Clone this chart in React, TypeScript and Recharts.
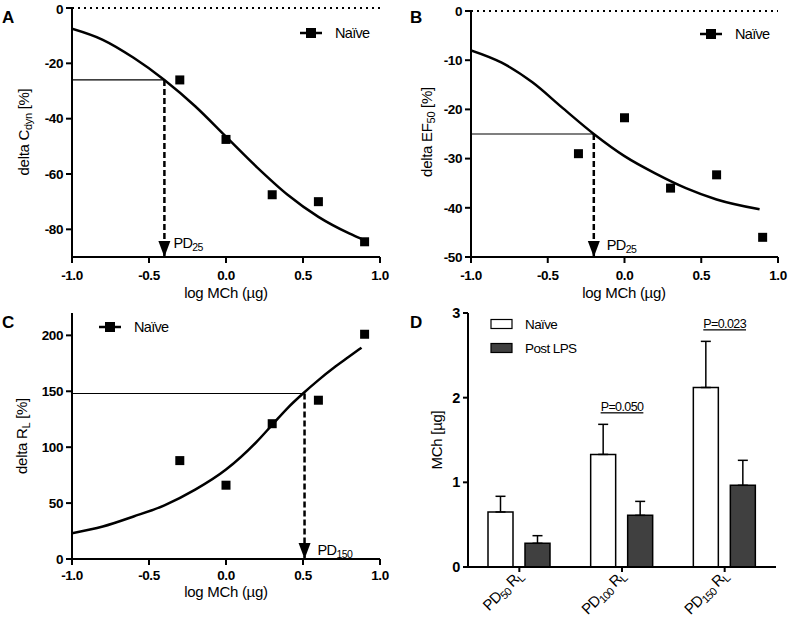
import React from 'react';
import {
  ComposedChart,
  Line,
  Scatter,
  XAxis,
  YAxis,
  ReferenceLine,
  ReferenceDot,
  BarChart,
  Bar,
  ErrorBar,
} from 'recharts';

const FONT = '"Liberation Sans", Arial, Helvetica, sans-serif';

// ---- Dose-response data (log MCh, µg) ----
const doses = [-0.3, 0, 0.3, 0.6, 0.9];
const cdynValues = [-26, -47.5, -67.5, -70, -84.5];
const ef50Values = [-29, -21.7, -36, -33.3, -46];
const rlValues = [88, 66, 121, 142, 201];

// fitted curves
const fitXA = [-1, -0.8, -0.6, -0.4, -0.2, 0, 0.2, 0.4, 0.6, 0.8, 0.9];
const fitYA = [-7.5, -11.5, -18, -26, -35.5, -46.5, -57.5, -67.5, -75.5, -81.5, -84];
const fitXB = [-1, -0.8, -0.6, -0.4, -0.2, 0, 0.2, 0.4, 0.6, 0.88];
const fitYB = [-8, -10.5, -14.5, -19.8, -25, -29.5, -33, -36, -38.3, -40.3];
const fitXC = [-1, -0.8, -0.6, -0.4, -0.2, 0, 0.2, 0.3, 0.4, 0.5, 0.6, 0.7, 0.8, 0.88];
const fitYC = [23, 29, 38, 48, 62, 80, 105, 120, 135, 148, 160, 171, 181, 189];

const xTicks = [-1, -0.5, 0, 0.5, 1];
const yTicksA = [-80, -60, -40, -20, 0];
const yTicksB = [-50, -40, -30, -20, -10, 0];
const yTicksC = [0, 50, 100, 150, 200];

// PD markers
const pdA = { x: -0.4, y: -26, sub: '25' };
const pdB = { x: -0.2, y: -25, sub: '25' };
const pdC = { x: 0.51, y: 148, sub: '150' };

// ---- Bar panel data ----
const categories = ['PD50 RL', 'PD100 RL', 'PD150 RL'];
const catSubs = ['50', '100', '150'];
const naiveMean = [0.65, 1.33, 2.12];
const naiveSem = [0.185, 0.355, 0.545];
const lpsMean = [0.28, 0.61, 0.965];
const lpsSem = [0.09, 0.165, 0.295];
const pTexts = ['', 'P=0.050', 'P=0.023'];
const pLevels = [0, 1.84, 2.82];
const yTicksD = [0, 1, 2, 3];

const toPts = (xs: number[], ys: number[]) => xs.map((x, i) => ({ x, y: ys[i] }));

const barData = categories.map((c, i) => ({
  cat: c,
  naive: naiveMean[i],
  naiveErr: [0, naiveSem[i]],
  lps: lpsMean[i],
  lpsErr: [0, lpsSem[i]],
}));

const axisLine = { stroke: '#000', strokeWidth: 2 };
const tickLine = { stroke: '#000', strokeWidth: 2 };

const XTick = (props: any) => {
  const { x, y, payload } = props;
  return (
    <text
      x={x}
      y={y}
      dy="0.71em"
      textAnchor="middle"
      fontSize={13.5}
      fontWeight={700}
      fontFamily={FONT}
      fill="#000"
      letterSpacing={-0.4}
    >
      {Number(payload.value).toFixed(1)}
    </text>
  );
};

const makeYTick = (size: number) => (props: any) => {
  const { x, y, payload } = props;
  return (
    <text
      x={x}
      y={y}
      dy="0.355em"
      textAnchor="end"
      fontSize={size}
      fontWeight={700}
      fontFamily={FONT}
      fill="#000"
      letterSpacing={-0.4}
    >
      {payload.value}
    </text>
  );
};
const YTick = makeYTick(13.5);
const YTickD = makeYTick(14.5);

const Square = (props: any) => {
  const { cx, cy } = props;
  if (cx == null || cy == null) return null;
  return <rect x={cx - 4.5} y={cy - 4.5} width={9} height={9} fill="#000" />;
};

const makeArrow = (sub: string, dx: number, dy: number) => (props: any) => {
  const { cx, cy } = props;
  if (cx == null || cy == null) return null;
  return (
    <g>
      <path d={`M${cx - 6},${cy - 16} L${cx + 6},${cy - 16} L${cx},${cy} Z`} fill="#000" />
      <text x={cx + dx} y={cy + dy} fontSize={14.5} fontFamily={FONT} fill="#000" letterSpacing={-0.6}>
        PD
        <tspan fontSize={10.5} dy={3}>
          {sub}
        </tspan>
      </text>
    </g>
  );
};

type DoseProps = {
  left: number;
  top: number;
  width: number;
  height: number;
  margin: { top: number; right: number; bottom: number; left: number };
  yDomain: [number, number];
  yTicks: number[];
  points: { x: number; y: number }[];
  fit: { x: number; y: number }[];
  pd: { x: number; y: number; sub: string };
  labelDx: number;
  labelDy: number;
  zeroLine: boolean;
  xTickMargin: number;
};

function DosePanel(p: DoseProps) {
  return (
    <div style={{ position: 'absolute', left: p.left, top: p.top }}>
      <ComposedChart width={p.width} height={p.height} margin={p.margin}>
        <XAxis
          type="number"
          dataKey="x"
          domain={[-1, 1]}
          ticks={xTicks}
          allowDataOverflow
          axisLine={axisLine}
          tickLine={tickLine}
          tickSize={6}
          tickMargin={p.xTickMargin}
          tick={<XTick />}
          height={40}
        />
        <YAxis
          type="number"
          dataKey="y"
          domain={p.yDomain}
          ticks={p.yTicks}
          allowDataOverflow
          axisLine={axisLine}
          tickLine={tickLine}
          tickSize={6}
          tickMargin={3}
          tick={<YTick />}
          width={40}
        />
        {p.zeroLine && (
          <ReferenceLine y={0} stroke="#000" strokeWidth={2} strokeDasharray="2 4" />
        )}
        <ReferenceLine
          segment={[
            { x: -1, y: p.pd.y },
            { x: p.pd.x, y: p.pd.y },
          ]}
          stroke="#000"
          strokeWidth={1.2}
        />
        <ReferenceLine
          segment={[
            { x: p.pd.x, y: p.pd.y },
            { x: p.pd.x, y: p.yDomain[0] },
          ]}
          stroke="#000"
          strokeWidth={2.5}
          strokeDasharray="6 3"
        />
        <ReferenceDot x={p.pd.x} y={p.yDomain[0]} shape={makeArrow(p.pd.sub, p.labelDx, p.labelDy)} />
        <Line
          data={p.fit}
          dataKey="y"
          type="monotone"
          stroke="#000"
          strokeWidth={2.5}
          dot={false}
          activeDot={false}
          isAnimationActive={false}
        />
        <Scatter data={p.points} dataKey="y" shape={Square} isAnimationActive={false} />
      </ComposedChart>
    </div>
  );
}

const CatTick = (props: any) => {
  const { x, y, payload } = props;
  const i = categories.indexOf(payload.value);
  return (
    <g transform={`translate(${x + 4},${y + 3})`}>
      <text
        transform="rotate(-45)"
        textAnchor="end"
        fontSize={15}
        fontFamily={FONT}
        fill="#000"
        letterSpacing={-0.8}
      >
        PD
        <tspan fontSize={11} dy={3}>
          {catSubs[i]}
        </tspan>
        <tspan fontSize={15} dy={-3}>
          {' R'}
        </tspan>
        <tspan fontSize={11} dy={3}>
          L
        </tspan>
      </text>
    </g>
  );
};

const makePLabel = (text: string) => (props: any) => {
  const { cx, cy } = props;
  if (cx == null || cy == null) return null;
  return (
    <text
      x={cx}
      y={cy}
      textAnchor="middle"
      fontSize={12.5}
      fontFamily={FONT}
      fill="#000"
      letterSpacing={-0.6}
      style={{ textDecoration: 'underline' }}
    >
      {text}
    </text>
  );
};

function BarPanel() {
  return (
    <div style={{ position: 'absolute', left: 396, top: 300 }}>
      <BarChart
        width={396}
        height={319}
        data={barData}
        margin={{ top: 13, right: 16, bottom: 12, left: 32 }}
        barSize={25}
        barGap={12}
      >
        <XAxis
          dataKey="cat"
          type="category"
          axisLine={axisLine}
          tickLine={tickLine}
          tickSize={5}
          tickMargin={2}
          tick={<CatTick />}
          height={40}
          interval={0}
        />
        <YAxis
          type="number"
          domain={[0, 3]}
          ticks={yTicksD}
          allowDataOverflow
          axisLine={axisLine}
          tickLine={tickLine}
          tickSize={5}
          tickMargin={3}
          tick={<YTickD />}
          width={40}
        />
        <Bar dataKey="naive" fill="#ffffff" stroke="#000" strokeWidth={1.5} isAnimationActive={false}>
          <ErrorBar dataKey="naiveErr" width={5} stroke="#000" strokeWidth={1.5} direction="y" />
        </Bar>
        <Bar dataKey="lps" fill="#404040" stroke="#000" strokeWidth={1.5} isAnimationActive={false}>
          <ErrorBar dataKey="lpsErr" width={5} stroke="#000" strokeWidth={1.5} direction="y" />
        </Bar>
        {categories.map((c, i) =>
          pTexts[i] ? (
            <ReferenceDot key={c} x={c} y={pLevels[i]} shape={makePLabel(pTexts[i])} />
          ) : null
        )}
      </BarChart>
    </div>
  );
}

function LineLegend({ x, y, label }: { x: number; y: number; label: string }) {
  return (
    <g>
      <line x1={x} y1={y} x2={x + 22} y2={y} stroke="#000" strokeWidth={2.5} />
      <rect x={x + 6} y={y - 5} width={10} height={10} fill="#000" />
      <text x={x + 35} y={y + 5} fontSize={14.5} fontFamily={FONT} letterSpacing={-0.7} fill="#000">
        {label}
      </text>
    </g>
  );
}

function Overlay() {
  const letter = { fontSize: 17, fontWeight: 700, fontFamily: FONT, fill: '#000' } as const;
  const title = { fontSize: 15, fontFamily: FONT, fill: '#000', letterSpacing: -0.3 } as const;
  return (
    <svg
      width={792}
      height={619}
      style={{ position: 'absolute', left: 0, top: 0, pointerEvents: 'none' }}
    >
      <text x={2} y={23} {...letter}>A</text>
      <text x={410} y={23} {...letter}>B</text>
      <text x={2} y={328} {...letter}>C</text>
      <text x={410} y={328} {...letter}>D</text>

      {/* y titles */}
      <text transform="translate(29,132) rotate(-90)" textAnchor="middle" {...title}>
        delta C<tspan fontSize={11} dy={3}>dyn</tspan>
        <tspan dy={-3}>{' [%]'}</tspan>
      </text>
      <text transform="translate(432,132) rotate(-90)" textAnchor="middle" {...title}>
        delta EF<tspan fontSize={11} dy={3}>50</tspan>
        <tspan dy={-3}>{' [%]'}</tspan>
      </text>
      <text transform="translate(27,436) rotate(-90)" textAnchor="middle" {...title}>
        delta R<tspan fontSize={11} dy={3}>L</tspan>
        <tspan dy={-3}>{' [%]'}</tspan>
      </text>
      <text transform="translate(442,440) rotate(-90)" textAnchor="middle" {...title}>
        MCh [µg]
      </text>

      {/* x titles */}
      <text x={226} y={298} textAnchor="middle" {...title}>log MCh (µg)</text>
      <text x={624} y={298} textAnchor="middle" {...title}>log MCh (µg)</text>
      <text x={226} y={597} textAnchor="middle" {...title}>log MCh (µg)</text>

      {/* legends */}
      <LineLegend x={300} y={33} label="Naïve" />
      <LineLegend x={700} y={34} label="Naïve" />
      <LineLegend x={99} y={327} label="Naïve" />

      <rect x={491} y={319.5} width={21} height={9} fill="#fff" stroke="#000" strokeWidth={1.2} />
      <text x={525} y={329} fontSize={13.5} fontFamily={FONT} letterSpacing={-0.6} fill="#000">Naïve</text>
      <rect x={491} y={343.5} width={21} height={9} fill="#404040" stroke="#000" strokeWidth={1.2} />
      <text x={525} y={353} fontSize={13.5} fontFamily={FONT} letterSpacing={-0.6} fill="#000">Post LPS</text>
    </svg>
  );
}

export default function App() {
  return (
    <div
      style={{
        position: 'absolute',
        left: 0,
        top: 0,
        width: 792,
        height: 619,
        background: '#fff',
        fontFamily: FONT,
        overflow: 'hidden',
      }}
    >
      <DosePanel
        left={0}
        top={0}
        width={396}
        height={300}
        margin={{ top: 8, right: 16, bottom: 3, left: 32 }}
        yDomain={[-90, 0]}
        yTicks={yTicksA}
        points={toPts(doses, cdynValues)}
        fit={toPts(fitXA, fitYA)}
        pd={pdA}
        labelDx={9}
        labelDy={-9}
        zeroLine
        xTickMargin={7}
      />
      <DosePanel
        left={396}
        top={0}
        width={396}
        height={300}
        margin={{ top: 11, right: 14, bottom: 3, left: 35 }}
        yDomain={[-50, 0]}
        yTicks={yTicksB}
        points={toPts(doses, ef50Values)}
        fit={toPts(fitXB, fitYB)}
        pd={pdB}
        labelDx={13}
        labelDy={-7}
        zeroLine
        xTickMargin={7}
      />
      <DosePanel
        left={0}
        top={300}
        width={396}
        height={319}
        margin={{ top: 13, right: 16, bottom: 20, left: 32 }}
        yDomain={[0, 220]}
        yTicks={yTicksC}
        points={toPts(doses, rlValues)}
        fit={toPts(fitXC, fitYC)}
        pd={pdC}
        labelDx={13}
        labelDy={-4}
        zeroLine={false}
        xTickMargin={5}
      />
      <BarPanel />
      <Overlay />
    </div>
  );
}
